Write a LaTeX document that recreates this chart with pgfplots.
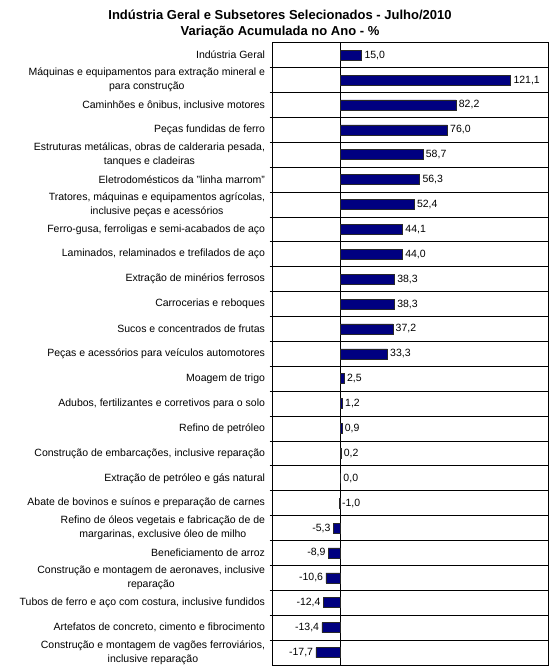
\documentclass[border=0pt]{standalone}
\usepackage{pgfplots}
\pgfplotsset{compat=1.18}
\usepackage{pgfplotstable}
\usepackage{fontspec}
\setmainfont{Liberation Sans}
\definecolor{barnavy}{RGB}{0,0,128}
\definecolor{baredge}{RGB}{40,40,40}

\pgfplotstableread{
i v lab
0 15.0 15,0
1 121.1 121,1
2 82.2 82,2
3 76.0 76,0
4 58.7 58,7
5 56.3 56,3
6 52.4 52,4
7 44.1 44,1
8 44.0 44,0
9 38.3 38,3
10 38.3 38,3
11 37.2 37,2
12 33.3 33,3
13 2.5 2,5
14 1.2 1,2
15 0.9 0,9
16 0.2 0,2
17 0.0 0,0
18 -1.0 -1,0
}\posdata

\pgfplotstableread{
i v lab
19 -5.3 -5,3
20 -8.9 -8,9
21 -10.6 -10,6
22 -12.4 -12,4
23 -13.4 -13,4
24 -17.7 -17,7
}\negdata

\begin{document}
\begin{tikzpicture}
\begin{axis}[
  scale only axis, width=275.3pt, height=622.3pt,
  at={(0,0)}, anchor=south west,
  xmin=-48.43, xmax=147.65, ymin=-0.5, ymax=24.5, y dir=reverse,
  axis line style={black, line width=0.8pt},
  xtick=\empty,
  extra x ticks={0}, extra x tick labels={},
  extra x tick style={grid=major, major grid style={black, line width=0.8pt}, major tick length=0pt},
  ytick={0,...,24},
  yticklabels={
    {Indústria Geral},
    {Máquinas e equipamentos para extração mineral e\\para construção},
    {Caminhões e ônibus, inclusive motores},
    {Peças fundidas de ferro},
    {Estruturas metálicas, obras de calderaria pesada,\\tanques e cladeiras},
    {Eletrodomésticos da "linha marrom"},
    {Tratores, máquinas e equipamentos agrícolas,\\inclusive peças e acessórios},
    {Ferro-gusa, ferroligas e semi-acabados de aço},
    {Laminados, relaminados e trefilados de aço},
    {Extração de minérios ferrosos},
    {Carrocerias e reboques},
    {Sucos e concentrados de frutas},
    {Peças e acessórios para veículos automotores},
    {Moagem de trigo},
    {Adubos, fertilizantes e corretivos para o solo},
    {Refino de petróleo},
    {Construção de embarcações, inclusive reparação},
    {Extração de petróleo e gás natural},
    {Abate de bovinos e suínos e preparação de carnes},
    {Refino de óleos vegetais e fabricação de de\\margarinas, exclusive óleo de milho},
    {Beneficiamento de arroz},
    {Construção e montagem de aeronaves, inclusive\\reparação},
    {Tubos de ferro e aço com costura, inclusive fundidos},
    {Artefatos de concreto, cimento e fibrocimento},
    {Construção e montagem de vagões ferroviários,\\inclusive reparação}
  },
  minor ytick={0.5,1.5,...,23.5},
  yminorgrids=true,
  minor grid style={black, line width=0.8pt},
  ytick pos=left, tick align=outside,
  major tick length=0pt, minor tick length=3pt,
  minor tick style={black, line width=0.8pt},
  yticklabel style={font=\fontsize{10.5}{14}\selectfont, align=center, inner sep=0pt, xshift=-7.5pt},
  xbar, bar width=10pt, bar shift=0pt,
  point meta=explicit symbolic,
  nodes near coords,
  every node near coord/.append style={font=\fontsize{10.5}{12}\selectfont, inner sep=2.5pt, black},
]
\addplot[fill=barnavy, draw=baredge, line width=0.6pt,
  every node near coord/.append style={anchor=west}]
  table[x=v, y=i, meta=lab] {\posdata};
\addplot[fill=barnavy, draw=baredge, line width=0.6pt,
  every node near coord/.append style={anchor=east}]
  table[x=v, y=i, meta=lab] {\negdata};
\end{axis}
\node[anchor=base, font=\bfseries\fontsize{13}{15}\selectfont] at (7.3pt,645.5pt) {Indústria Geral e Subsetores Selecionados - Julho/2010};
\node[anchor=base, font=\bfseries\fontsize{13}{15}\selectfont] at (7.3pt,629pt) {Variação Acumulada no Ano - \%};
\pgfresetboundingbox
\useasboundingbox (-272.7pt,-6pt) rectangle (277.3pt,665pt);
\end{tikzpicture}
\end{document}
